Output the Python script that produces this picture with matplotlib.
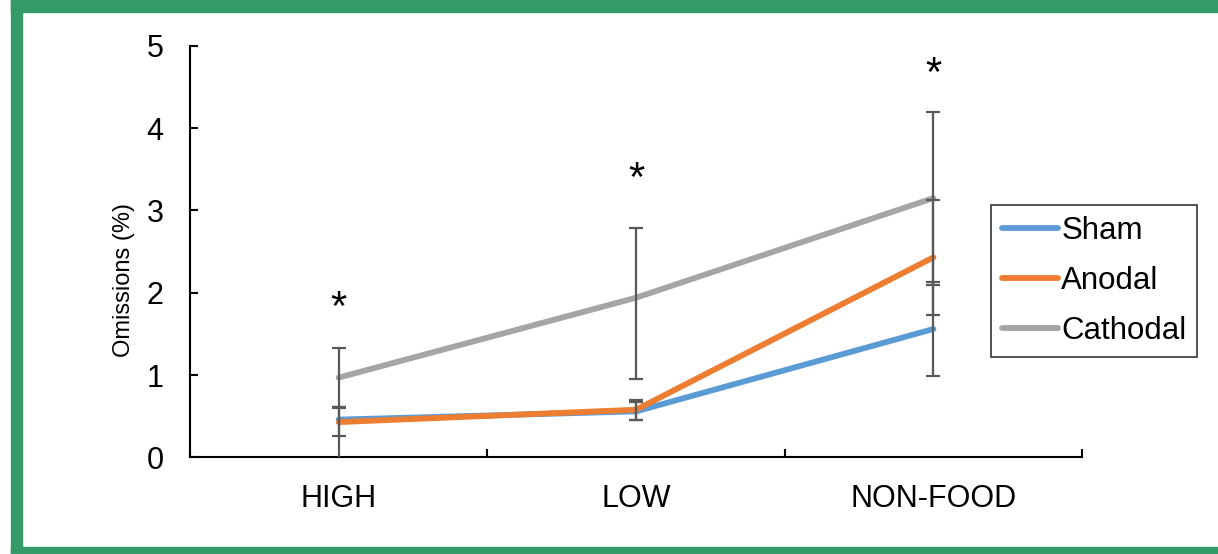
import numpy as np
import matplotlib.pyplot as plt
from matplotlib.patches import Rectangle

plt.rcParams['font.family'] = ['Liberation Sans', 'DejaVu Sans']

categories = ['HIGH', 'LOW', 'NON-FOOD']

sham = [0.46, 0.56, 1.56]
sham_err_lo = [0.50, 0.11, 0.57]
sham_err_hi = [0.15, 0.11, 0.57]

anodal = [0.43, 0.58, 2.43]
anodal_err = [0.17, 0.12, 0.70]

cathodal = [0.97, 1.94, 3.15]
cathodal_err_lo = [0.36, 0.99, 1.05]
cathodal_err_hi = [0.36, 0.85, 1.05]

# baseline height of the significance stars
star_y = [1.67, 3.23, 4.51]

fig = plt.figure(figsize=(12.18, 5.54), dpi=100)
ax = fig.add_axes([0.156, 0.1742, 0.7324, 0.7433])

# green frame around the figure
green = '#359a69'
fig.patches.append(Rectangle((11 / 1218, 0), 11 / 1218, 1, transform=fig.transFigure,
                             color=green, zorder=0))
fig.patches.append(Rectangle((11 / 1218, 1 - 12 / 554), 1, 12 / 554, transform=fig.transFigure,
                             color=green, zorder=0))
fig.patches.append(Rectangle((11 / 1218, 0), 1, 7 / 554, transform=fig.transFigure,
                             color=green, zorder=0))

x = np.arange(len(categories)) + 0.5
series = [
    ('Sham', sham, [sham_err_lo, sham_err_hi], '#5b9bd5'),
    ('Anodal', anodal, [anodal_err, anodal_err], '#ed7d31'),
    ('Cathodal', cathodal, [cathodal_err_lo, cathodal_err_hi], '#a5a5a5'),
]
for name, vals, err, col in series:
    ax.plot(x, vals, color=col, lw=4.2, label=name, solid_capstyle='round', zorder=2)
    ax.errorbar(x, vals, yerr=err, fmt='none', ecolor='#595959', elinewidth=1.6,
                capsize=5, capthick=1.6, zorder=3)

for xi, yi in zip(x, star_y):
    ax.text(xi, yi, '*', ha='center', va='baseline', fontsize=30)

ax.set_xlim(0, 3)
ax.set_ylim(0, 5)
ax.set_yticks(range(6))
ax.set_xticks([0, 1, 2, 3])
ax.set_xticklabels([])
ax.set_xticks(x, minor=True)
ax.set_xticklabels(categories, minor=True)
ax.tick_params(axis='x', which='major', direction='in', length=6, width=1.5)
ax.tick_params(axis='x', which='minor', length=0, pad=19, labelsize=22)
ax.tick_params(axis='y', direction='in', length=6, width=1.5, pad=19, labelsize=22)
ax.spines['top'].set_visible(False)
ax.spines['right'].set_visible(False)
ax.spines['left'].set_linewidth(1.5)
ax.spines['bottom'].set_linewidth(1.5)
ax.set_ylabel('Omissions (%)', fontsize=17)
ax.yaxis.set_label_coords(-0.062, 0.43)

leg = fig.legend(loc='center left', bbox_to_anchor=(0.8136, 0.4928), fontsize=22.5,
                 frameon=True, fancybox=False, edgecolor='black', handlelength=1.8,
                 handletextpad=0.1, labelspacing=0.65, borderpad=0.35, borderaxespad=0)
leg.get_frame().set_linewidth(1.2)

fig.savefig('out.png', dpi=100)
